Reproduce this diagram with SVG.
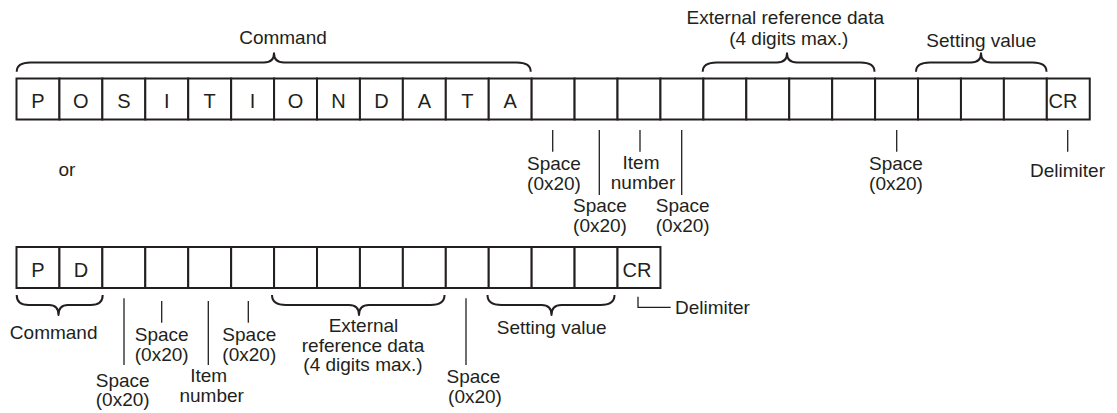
<svg xmlns="http://www.w3.org/2000/svg" width="1117" height="413" viewBox="0 0 1117 413">
  <style>
    text { font-family: "Liberation Sans", Arial, sans-serif; fill: #231f20; }
    .lbl { font-size: 19px; text-anchor: middle; }
    .ch { font-size: 20px; text-anchor: middle; }
    .cell { fill: #ffffff; stroke: #231f20; stroke-width: 2; }
    .brace { fill: none; stroke: #231f20; stroke-width: 2; stroke-linejoin: round; }
    .tick { fill: none; stroke: #231f20; stroke-width: 1.3; }
  </style>
  <rect width="1117" height="413" fill="#ffffff"/>

  <g id="row-full">
    <rect class="cell" x="16.5" y="78.5" width="42.93" height="41"/>
    <rect class="cell" x="59.43" y="78.5" width="42.93" height="41"/>
    <rect class="cell" x="102.36" y="78.5" width="42.93" height="41"/>
    <rect class="cell" x="145.29" y="78.5" width="42.93" height="41"/>
    <rect class="cell" x="188.22" y="78.5" width="42.93" height="41"/>
    <rect class="cell" x="231.15" y="78.5" width="42.93" height="41"/>
    <rect class="cell" x="274.08" y="78.5" width="42.93" height="41"/>
    <rect class="cell" x="317.01" y="78.5" width="42.93" height="41"/>
    <rect class="cell" x="359.94" y="78.5" width="42.93" height="41"/>
    <rect class="cell" x="402.87" y="78.5" width="42.93" height="41"/>
    <rect class="cell" x="445.8" y="78.5" width="42.93" height="41"/>
    <rect class="cell" x="488.73" y="78.5" width="42.93" height="41"/>
    <rect class="cell" x="531.66" y="78.5" width="42.93" height="41"/>
    <rect class="cell" x="574.59" y="78.5" width="42.93" height="41"/>
    <rect class="cell" x="617.52" y="78.5" width="42.93" height="41"/>
    <rect class="cell" x="660.45" y="78.5" width="42.93" height="41"/>
    <rect class="cell" x="703.38" y="78.5" width="42.93" height="41"/>
    <rect class="cell" x="746.31" y="78.5" width="42.93" height="41"/>
    <rect class="cell" x="789.24" y="78.5" width="42.93" height="41"/>
    <rect class="cell" x="832.17" y="78.5" width="42.93" height="41"/>
    <rect class="cell" x="875.1" y="78.5" width="42.93" height="41"/>
    <rect class="cell" x="918.03" y="78.5" width="42.93" height="41"/>
    <rect class="cell" x="960.96" y="78.5" width="42.93" height="41"/>
    <rect class="cell" x="1003.89" y="78.5" width="42.93" height="41"/>
    <rect class="cell" x="1046.82" y="78.5" width="42.93" height="41"/>
    <text class="ch" x="38" y="107.5">P</text>
    <text class="ch" x="80.9" y="107.5">O</text>
    <text class="ch" x="123.8" y="107.5">S</text>
    <text class="ch" x="166.8" y="107.5">I</text>
    <text class="ch" x="209.7" y="107.5">T</text>
    <text class="ch" x="252.6" y="107.5">I</text>
    <text class="ch" x="295.5" y="107.5">O</text>
    <text class="ch" x="338.5" y="107.5">N</text>
    <text class="ch" x="381.4" y="107.5">D</text>
    <text class="ch" x="424.3" y="107.5">A</text>
    <text class="ch" x="467.3" y="107.5">T</text>
    <text class="ch" x="510.2" y="107.5">A</text>
    <text class="ch" x="1063" y="107.5">CR</text>
  </g>

  <g id="row-short">
    <rect class="cell" x="16.5" y="247" width="42.93" height="41"/>
    <rect class="cell" x="59.43" y="247" width="42.93" height="41"/>
    <rect class="cell" x="102.36" y="247" width="42.93" height="41"/>
    <rect class="cell" x="145.29" y="247" width="42.93" height="41"/>
    <rect class="cell" x="188.22" y="247" width="42.93" height="41"/>
    <rect class="cell" x="231.15" y="247" width="42.93" height="41"/>
    <rect class="cell" x="274.08" y="247" width="42.93" height="41"/>
    <rect class="cell" x="317.01" y="247" width="42.93" height="41"/>
    <rect class="cell" x="359.94" y="247" width="42.93" height="41"/>
    <rect class="cell" x="402.87" y="247" width="42.93" height="41"/>
    <rect class="cell" x="445.8" y="247" width="42.93" height="41"/>
    <rect class="cell" x="488.73" y="247" width="42.93" height="41"/>
    <rect class="cell" x="531.66" y="247" width="42.93" height="41"/>
    <rect class="cell" x="574.59" y="247" width="42.93" height="41"/>
    <rect class="cell" x="617.52" y="247" width="42.93" height="41"/>
    <text class="ch" x="38" y="276.5">P</text>
    <text class="ch" x="80.9" y="276.5">D</text>
    <text class="ch" x="637" y="276.5">CR</text>
  </g>

  <g id="braces">
    <path class="brace" d="M16.7,71.7 Q16.7,62.5 30.7,62.5 L264,62.5 Q274,62.5 274,53.3 Q274,62.5 284,62.5 L516.7,62.5 Q530.7,62.5 530.7,71.7"/>
    <path class="brace" d="M702.7,71.7 Q702.7,62.5 716.7,62.5 L777,62.5 Q787,62.5 787,53.3 Q787,62.5 797,62.5 L860.5,62.5 Q874.5,62.5 874.5,71.7"/>
    <path class="brace" d="M916,71.7 Q916,62.5 930,62.5 L971,62.5 Q981,62.5 981,53.3 Q981,62.5 991,62.5 L1032.5,62.5 Q1046.5,62.5 1046.5,71.7"/>
    <path class="brace" d="M16.7,295 Q16.7,305 28.7,305 L49,305 Q58.5,305 58.5,315 Q58.5,305 68,305 L90.7,305 Q102.7,305 102.7,295"/>
    <path class="brace" d="M272,295 Q272,305 286,305 L349,305 Q359,305 359,315 Q359,305 369,305 L430.5,305 Q444.5,305 444.5,295"/>
    <path class="brace" d="M487.5,295 Q487.5,305 501.5,305 L541.5,305 Q551.5,305 551.5,315 Q551.5,305 561.5,305 L600.5,305 Q614.5,305 614.5,295"/>
  </g>

  <g id="connectors">
    <line class="tick" x1="552.7" y1="130" x2="552.7" y2="151.7"/>
    <line class="tick" x1="599.3" y1="130" x2="599.3" y2="195"/>
    <line class="tick" x1="640" y1="130" x2="640" y2="151.7"/>
    <line class="tick" x1="681.7" y1="130" x2="681.7" y2="195"/>
    <line class="tick" x1="896.7" y1="130" x2="896.7" y2="151.7"/>
    <line class="tick" x1="1067.7" y1="130" x2="1067.7" y2="151.7"/>
    <line class="tick" x1="124" y1="298.3" x2="124" y2="365"/>
    <line class="tick" x1="161.7" y1="301" x2="161.7" y2="322.7"/>
    <line class="tick" x1="208.3" y1="301" x2="208.3" y2="365"/>
    <line class="tick" x1="248.3" y1="301" x2="248.3" y2="322.7"/>
    <line class="tick" x1="466" y1="298.3" x2="466" y2="365"/>
    <polyline class="tick" points="638,296.7 638,307.3 670.7,307.3"/>
  </g>

  <g id="label-command-top"><text class="lbl" x="283" y="44">Command</text></g>
  <g id="label-ext-top">
    <text class="lbl" x="785.3" y="24">External reference data</text>
    <text class="lbl" x="788.8" y="45">(4 digits max.)</text>
  </g>
  <g id="label-setting-top"><text class="lbl" x="981.3" y="47">Setting value</text></g>
  <g id="label-space1-top"><text class="lbl" x="554" y="170">Space</text><text class="lbl" x="554" y="190">(0x20)</text></g>
  <g id="label-space2-top"><text class="lbl" x="600" y="211.7">Space</text><text class="lbl" x="600" y="231.7">(0x20)</text></g>
  <g id="label-item-top"><text class="lbl" x="641" y="169">Item</text><text class="lbl" x="643" y="189">number</text></g>
  <g id="label-space3-top"><text class="lbl" x="682.7" y="211.7">Space</text><text class="lbl" x="682.7" y="231.7">(0x20)</text></g>
  <g id="label-space4-top"><text class="lbl" x="896" y="170">Space</text><text class="lbl" x="896" y="190">(0x20)</text></g>
  <g id="label-delim-top"><text class="lbl" x="1067.5" y="176.5">Delimiter</text></g>

  <g id="label-or"><text class="lbl" x="67" y="176">or</text></g>

  <g id="label-command-bot"><text class="lbl" x="53.7" y="339">Command</text></g>
  <g id="label-space1-bot"><text class="lbl" x="122.7" y="386.7">Space</text><text class="lbl" x="122.7" y="406">(0x20)</text></g>
  <g id="label-space2-bot"><text class="lbl" x="161.7" y="341">Space</text><text class="lbl" x="161.7" y="360.7">(0x20)</text></g>
  <g id="label-item-bot"><text class="lbl" x="208.7" y="382">Item</text><text class="lbl" x="211.7" y="402">number</text></g>
  <g id="label-space3-bot"><text class="lbl" x="249.3" y="341">Space</text><text class="lbl" x="249.3" y="360.7">(0x20)</text></g>
  <g id="label-ext-bot">
    <text class="lbl" x="363.5" y="331.7">External</text>
    <text class="lbl" x="363" y="351.7">reference data</text>
    <text class="lbl" x="363" y="371">(4 digits max.)</text>
  </g>
  <g id="label-space4-bot"><text class="lbl" x="473.5" y="383">Space</text><text class="lbl" x="475" y="403">(0x20)</text></g>
  <g id="label-setting-bot"><text class="lbl" x="551.7" y="334">Setting value</text></g>
  <g id="label-delim-bot"><text class="lbl" x="675" y="314" style="text-anchor:start">Delimiter</text></g>
</svg>
